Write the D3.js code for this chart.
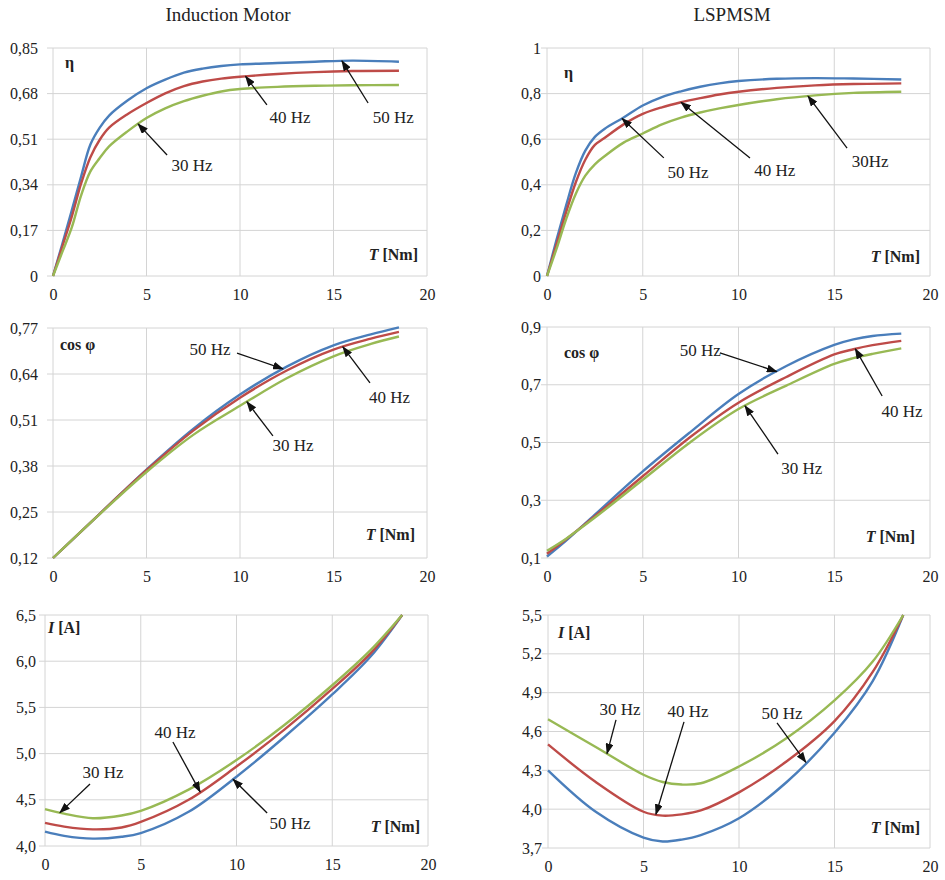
<!DOCTYPE html>
<html>
<head>
<meta charset="utf-8">
<script src="https://cdn.jsdelivr.net/npm/d3@7"></script>
<style>
  body { margin: 0; background: #fff; }
  .grid line { stroke: #d4d4d4; stroke-width: 1; }
  .series { fill: none; stroke-width: 2.4; }
</style>
</head>
<body>
<svg class="main-svg" width="945" height="880"></svg>
<script>
'use strict'

const FONT = '"Liberation Serif", "Times New Roman", Times, serif'

// torque values (x) for each panel
const tEta = [0, 0.5, 1, 1.5, 2, 2.5, 3, 4, 5, 6, 7, 8, 9, 10, 12, 14, 16, 18.5]
const tCosIM = [0, 2.5, 5, 7.5, 10, 12.5, 15, 17, 18.5]
const tCosLS = [0, 1, 2.5, 5, 7.5, 10, 12.5, 15, 16, 17, 18.5]
const tCurIM = [0, 1, 2.5, 4, 5, 7.5, 10, 12.5, 15, 17, 18.65]
const tCurLS = [0, 2.5, 5, 6, 7, 8, 10, 12.5, 15, 17, 18.6]

// efficiency, induction motor (50, 40, 30 Hz)
const etaIM50 = [0, 0.12, 0.244, 0.37, 0.49, 0.553, 0.598, 0.655, 0.700, 0.732, 0.758, 0.773, 0.783, 0.789, 0.794, 0.799, 0.803, 0.799]
const etaIM40 = [0, 0.11, 0.22, 0.344, 0.443, 0.508, 0.553, 0.604, 0.645, 0.681, 0.708, 0.725, 0.736, 0.743, 0.753, 0.760, 0.764, 0.765]
const etaIM30 = [0, 0.09, 0.18, 0.30, 0.39, 0.44, 0.483, 0.54, 0.589, 0.625, 0.652, 0.672, 0.688, 0.697, 0.705, 0.709, 0.711, 0.712]
// efficiency, LSPMSM
const etaLS50 = [0, 0.16, 0.31, 0.45, 0.55, 0.61, 0.645, 0.695, 0.748, 0.785, 0.81, 0.83, 0.845, 0.855, 0.865, 0.868, 0.866, 0.862]
const etaLS40 = [0, 0.14, 0.28, 0.41, 0.51, 0.575, 0.605, 0.665, 0.711, 0.74, 0.762, 0.78, 0.796, 0.808, 0.825, 0.836, 0.842, 0.845]
const etaLS30 = [0, 0.12, 0.25, 0.36, 0.44, 0.49, 0.525, 0.585, 0.625, 0.665, 0.695, 0.717, 0.735, 0.75, 0.775, 0.792, 0.803, 0.808]
// power factor
const cosIM50 = [0.12, 0.245, 0.37, 0.485, 0.582, 0.661, 0.721, 0.752, 0.772]
const cosIM40 = [0.12, 0.245, 0.368, 0.48, 0.573, 0.65, 0.709, 0.74, 0.759]
const cosIM30 = [0.12, 0.244, 0.363, 0.468, 0.55, 0.628, 0.69, 0.725, 0.746]
const cosLS50 = [0.105, 0.16, 0.25, 0.40, 0.537, 0.668, 0.765, 0.838, 0.857, 0.869, 0.877]
const cosLS40 = [0.115, 0.165, 0.245, 0.383, 0.52, 0.638, 0.727, 0.805, 0.823, 0.837, 0.852]
const cosLS30 = [0.125, 0.167, 0.24, 0.371, 0.502, 0.616, 0.697, 0.772, 0.792, 0.807, 0.826]
// current
const curIM50 = [4.155, 4.11, 4.08, 4.10, 4.14, 4.37, 4.75, 5.18, 5.64, 6.05, 6.5]
const curIM40 = [4.25, 4.21, 4.18, 4.20, 4.26, 4.50, 4.86, 5.26, 5.70, 6.085, 6.5]
const curIM30 = [4.40, 4.35, 4.30, 4.33, 4.38, 4.61, 4.93, 5.31, 5.74, 6.12, 6.5]
const curLS50 = [4.30, 3.98, 3.78, 3.75, 3.765, 3.80, 3.93, 4.21, 4.59, 4.99, 5.5]
const curLS40 = [4.50, 4.21, 3.98, 3.95, 3.96, 3.99, 4.13, 4.37, 4.68, 5.06, 5.5]
const curLS30 = [4.695, 4.48, 4.266, 4.21, 4.19, 4.20, 4.33, 4.55, 4.84, 5.14, 5.5]

// tick labels
const xTicks = [0, 5, 10, 15, 20]
const yTicksEtaIM = [0, 0.17, 0.34, 0.51, 0.68, 0.85]
const yTicksEtaLS = [0, 0.2, 0.4, 0.6, 0.8, 1]
const yTicksCosIM = [0.12, 0.25, 0.38, 0.51, 0.64, 0.77]
const yTicksCosLS = [0.1, 0.3, 0.5, 0.7, 0.9]
const yTicksCurIM = [4.0, 4.5, 5.0, 5.5, 6.0, 6.5]
const yTicksCurLS = [3.7, 4.0, 4.3, 4.6, 4.9, 5.2, 5.5]

const colors = ['#4a7ebb', '#be4b48', '#98b954']   // 50, 40, 30 Hz

// annotations: label position and arrow start in data units, arrow ends on series s at torque t
const notesEtaIM = [
  { text: '50 Hz', lx: 18.2, ly: 0.593, ax: 16.85, ay: 0.645, s: 0, t: 15.45 },
  { text: '40 Hz', lx: 12.67, ly: 0.593, ax: 11.44, ay: 0.638, s: 1, t: 10.3 },
  { text: '30 Hz', lx: 7.43, ly: 0.414, ax: 6.1, ay: 0.451, s: 2, t: 4.55 }
]
const notesEtaLS = [
  { text: '50 Hz', lx: 7.36, ly: 0.456, ax: 6.1, ay: 0.518, s: 0, t: 3.92 },
  { text: '40 Hz', lx: 11.9, ly: 0.465, ax: 10.6, ay: 0.518, s: 1, t: 7.0 },
  { text: '30Hz', lx: 16.87, ly: 0.504, ax: 15.67, ay: 0.561, s: 2, t: 13.63 }
]
const notesCosIM = [
  { text: '50 Hz', lx: 8.4, ly: 0.711, ax: 9.84, ay: 0.699, s: 0, t: 12.3 },
  { text: '40 Hz', lx: 18.0, ly: 0.575, ax: 16.95, ay: 0.615, s: 1, t: 15.5 },
  { text: '30 Hz', lx: 12.83, ly: 0.439, ax: 11.76, ay: 0.465, s: 2, t: 10.37 }
]
const notesCosLS = [
  { text: '50 Hz', lx: 8.0, ly: 0.82, ax: 9.03, ay: 0.81, s: 0, t: 12.0 },
  { text: '40 Hz', lx: 18.54, ly: 0.61, ax: 17.5, ay: 0.661, s: 1, t: 16.1 },
  { text: '30 Hz', lx: 13.3, ly: 0.41, ax: 12.06, ay: 0.46, s: 2, t: 10.34 }
]
const notesCurIM = [
  { text: '30 Hz', lx: 3.03, ly: 4.80, ax: 2.35, ay: 4.67, s: 2, t: 0.78 },
  { text: '40 Hz', lx: 6.79, ly: 5.234, ax: 6.68, ay: 5.126, s: 1, t: 8.1 },
  { text: '50 Hz', lx: 12.8, ly: 4.25, ax: 11.6, ay: 4.357, s: 0, t: 9.82 }
]
const notesCurLS = [
  { text: '30 Hz', lx: 3.77, ly: 4.774, ax: 3.56, ay: 4.69, s: 2, t: 3.09 },
  { text: '40 Hz', lx: 7.33, ly: 4.759, ax: 7.12, ay: 4.674, s: 1, t: 5.65 },
  { text: '50 Hz', lx: 12.25, ly: 4.743, ax: 11.99, ay: 4.666, s: 0, t: 13.5 }
]

const fmt1 = d => d3.format('.1f')(d).replace('.', ',')
const fmt2 = d => (d === 0 ? '0' : d3.format('.2f')(d).replace('.', ','))
const fmtEta = d => (d === 0 || d === 1 ? String(d) : d3.format('.1f')(d).replace('.', ','))

const panels = [
  { x: tEta, series: [etaIM50, etaIM40, etaIM30], ticks: yTicksEtaIM, fmt: fmt2, notes: notesEtaIM,
    box: { l: 53, r: 427, t: 48, b: 276 }, lab: 'eta', labPos: [12, 20], tPos: [9, 16], pad: 15 },
  { x: tEta, series: [etaLS50, etaLS40, etaLS30], ticks: yTicksEtaLS, fmt: fmtEta, notes: notesEtaLS,
    box: { l: 547, r: 930, t: 48, b: 276 }, lab: 'eta', labPos: [17, 30], tPos: [10, 14], pad: 6 },
  { x: tCosIM, series: [cosIM50, cosIM40, cosIM30], ticks: yTicksCosIM, fmt: fmt2, notes: notesCosIM,
    box: { l: 53, r: 427, t: 328, b: 558 }, lab: 'cos', labPos: [7, 22], tPos: [12, 18], pad: 15 },
  { x: tCosLS, series: [cosLS50, cosLS40, cosLS30], ticks: yTicksCosLS, fmt: fmt1, notes: notesCosLS,
    box: { l: 547, r: 930, t: 327, b: 558 }, lab: 'cos', labPos: [17, 31], tPos: [15, 16], pad: 6 },
  { x: tCurIM, series: [curIM50, curIM40, curIM30], ticks: yTicksCurIM, fmt: fmt1, notes: notesCurIM,
    box: { l: 45, r: 428, t: 615, b: 846 }, lab: 'cur', labPos: [3, 18], tPos: [8, 14], pad: 9 },
  { x: tCurLS, series: [curLS50, curLS40, curLS30], ticks: yTicksCurLS, fmt: fmt1, notes: notesCurLS,
    box: { l: 548, r: 930, t: 615, b: 848 }, lab: 'cur', labPos: [10, 23], tPos: [10, 15], pad: 6 }
]

const svg = d3.select('.main-svg')
  .attr('font-family', FONT)
  .style('font-family', FONT)

svg.append('defs').append('marker')
  .attr('id', 'arrow')
  .attr('markerUnits', 'userSpaceOnUse')
  .attr('markerWidth', 11).attr('markerHeight', 8)
  .attr('refX', 10).attr('refY', 4)
  .attr('orient', 'auto')
  .append('path').attr('d', 'M0,0 L11,4 L0,8 Z').attr('fill', '#111')

const title = (x, s) => svg.append('text').attr('x', x).attr('y', 21)
  .attr('text-anchor', 'middle').attr('font-family', FONT).attr('fill', '#222')
  .style('font-size', '19px').text(s)
title(228, 'Induction Motor')
title(732, 'LSPMSM')

panels.forEach(p => {
  const w = p.box.r - p.box.l
  const h = p.box.b - p.box.t
  const x = d3.scaleLinear().domain([0, 20]).range([0, w])
  const y = d3.scaleLinear().domain(d3.extent(p.ticks)).range([h, 0])
  const g = svg.append('g').attr('transform', `translate(${p.box.l},${p.box.t})`)

  // grid
  const grid = g.append('g').attr('class', 'grid')
  grid.selectAll('.hl').data(p.ticks).join('line')
    .attr('x1', -6).attr('x2', w).attr('y1', d => y(d)).attr('y2', d => y(d))
  grid.selectAll('.vl').data(xTicks).join('line')
    .attr('x1', d => x(d)).attr('x2', d => x(d)).attr('y1', 0).attr('y2', h)

  // axis labels
  const yAxis = d3.axisLeft(y).tickValues(p.ticks).tickFormat(p.fmt).tickSize(0).tickPadding(p.pad)
  g.append('g').call(yAxis).attr('font-family', FONT).attr('font-size', 16)
    .call(a => a.select('.domain').remove())
    .selectAll('text').attr('fill', '#222')
  const xAxis = d3.axisBottom(x).tickValues(xTicks).tickSize(0).tickPadding(13)
  g.append('g').attr('transform', `translate(0,${h})`).call(xAxis)
    .attr('font-family', FONT).attr('font-size', 16)
    .call(a => a.select('.domain').remove())
    .selectAll('text').attr('fill', '#222')

  // curves
  const line = d3.line().curve(d3.curveCatmullRom.alpha(0.5))
  p.series.forEach((s, i) => {
    g.append('path').attr('class', 'series')
      .attr('stroke', colors[i])
      .attr('d', line(s.map((v, k) => [x(p.x[k]), y(v)])))
  })

  // annotations
  p.notes.forEach(n => {
    const interp = d3.scaleLinear().domain(p.x).range(p.series[n.s])
    g.append('line')
      .attr('x1', x(n.ax)).attr('y1', y(n.ay))
      .attr('x2', x(n.t)).attr('y2', y(interp(n.t)))
      .attr('stroke', '#111').attr('stroke-width', 1.3)
      .attr('marker-end', 'url(#arrow)')
    g.append('text').attr('x', x(n.lx)).attr('y', y(n.ly)).attr('dy', '0.35em')
      .attr('text-anchor', 'middle').attr('font-family', FONT).attr('fill', '#222')
      .style('font-size', '17px').text(n.text)
  })

  // quantity label
  const q = g.append('text').attr('x', p.labPos[0]).attr('y', p.labPos[1])
    .attr('font-family', FONT).attr('fill', '#222')
    .style('font-size', '16px').style('font-weight', 'bold')
  if (p.lab === 'eta') q.text('η')
  else if (p.lab === 'cos') q.text('cos φ')
  else {
    q.append('tspan').style('font-style', 'italic').text('I')
    q.append('tspan').text(' [A]')
  }

  // torque label
  const tl = g.append('text').attr('x', w - p.tPos[0]).attr('y', h - p.tPos[1])
    .attr('text-anchor', 'end').attr('font-family', FONT).attr('fill', '#222')
    .style('font-size', '16px').style('font-weight', 'bold')
  tl.append('tspan').style('font-style', 'italic').text('T')
  tl.append('tspan').text(' [Nm]')
})
</script>
</body>
</html>
